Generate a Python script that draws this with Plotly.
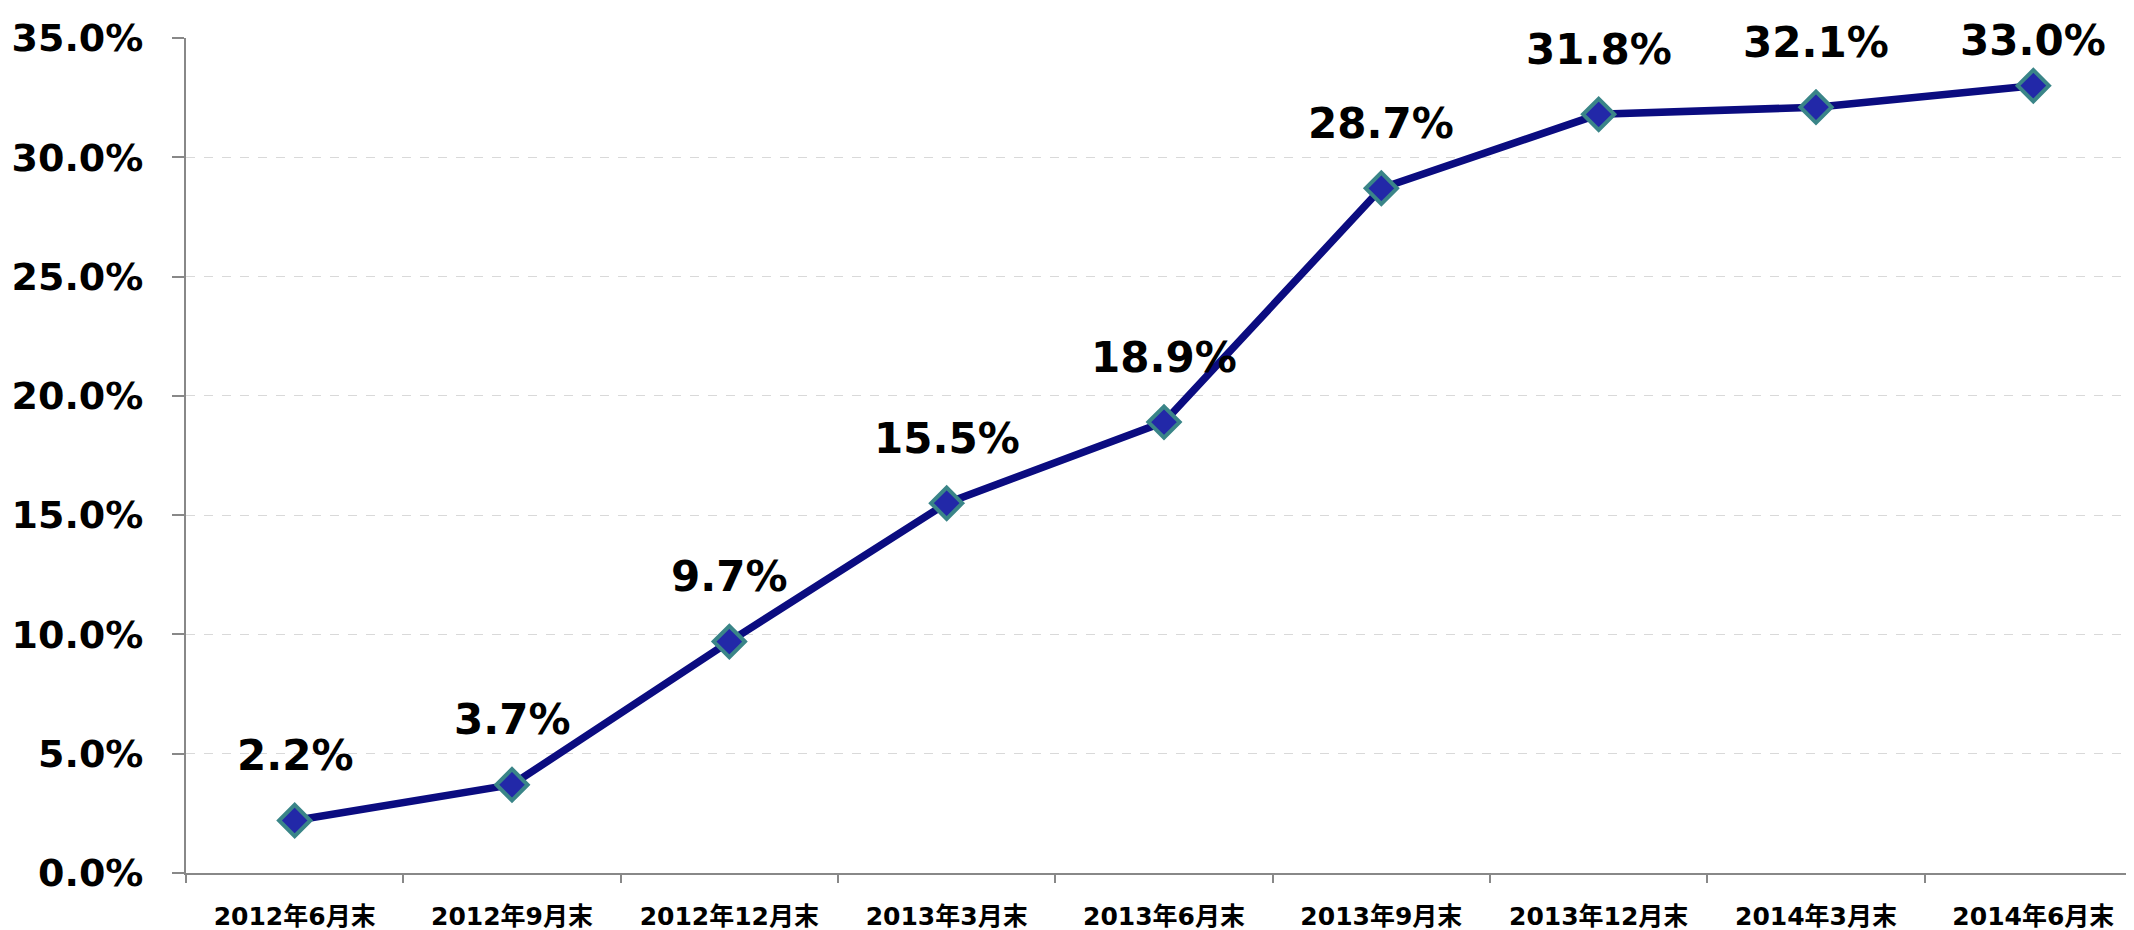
import plotly.graph_objects as go

categories = ["2012年6月末", "2012年9月末", "2012年12月末", "2013年3月末", "2013年6月末",
              "2013年9月末", "2013年12月末", "2014年3月末", "2014年6月末"]
values = [2.2, 3.7, 9.7, 15.5, 18.9, 28.7, 31.8, 32.1, 33.0]
y_ticks = [0, 5, 10, 15, 20, 25, 30, 35]
y_tick_labels = [f"{v:.1f}%" for v in y_ticks]
value_labels = [f"{v:.1f}%" for v in values]

FONT = "DejaVu Sans, Noto Sans CJK JP, sans-serif"

W, H = 2134, 930
M_L, M_R, M_T, M_B = 178, 0, 30, 65
Y_MAX = 35
plot_h = H - M_T - M_B

fig = go.Figure()
fig.add_trace(go.Scatter(
    x=categories, y=values, mode="lines+markers",
    line=dict(color="#0B0C80", width=7.5),
    marker=dict(symbol="diamond", size=24, color="#2228A8",
                line=dict(color="#3A8588", width=4)),
    hoverinfo="skip", showlegend=False,
))

# labels sit ~65px above the point, but are kept inside the chart at the top
for c, v, t in zip(categories, values, value_labels):
    py = M_T + (Y_MAX - v) / Y_MAX * plot_h
    shift = min(65, py - 33)
    fig.add_annotation(x=c, y=v, text=t, showarrow=False, yshift=shift,
                       font=dict(family=FONT, size=42, color="#000000", weight="bold"))

fig.update_layout(
    width=W, height=H,
    margin=dict(l=M_L, r=M_R, t=M_T, b=M_B, autoexpand=False),
    paper_bgcolor="white", plot_bgcolor="white",
    font=dict(family=FONT, color="#000000"),
)
fig.update_xaxes(
    type="category", range=[-0.5, 8.5],
    tickson="boundaries", ticks="outside", ticklen=8, tickcolor="#888888", tickwidth=2,
    showline=True, linecolor="#888888", linewidth=2, showgrid=False,
    tickfont=dict(family=FONT, size=25, color="#000000", weight="bold"),
    ticklabelstandoff=20,
)
fig.update_yaxes(
    range=[0, Y_MAX], tickvals=y_ticks, ticktext=y_tick_labels,
    ticks="outside", ticklen=12, tickcolor="#888888", tickwidth=2,
    showline=True, linecolor="#888888", linewidth=2,
    showgrid=True, gridcolor="#D9D9D9", griddash="dash", gridwidth=1,
    zeroline=False,
    tickfont=dict(family=FONT, size=38, color="#000000", weight="bold"),
    ticklabelstandoff=21,
)

fig.write_html("out.html")
